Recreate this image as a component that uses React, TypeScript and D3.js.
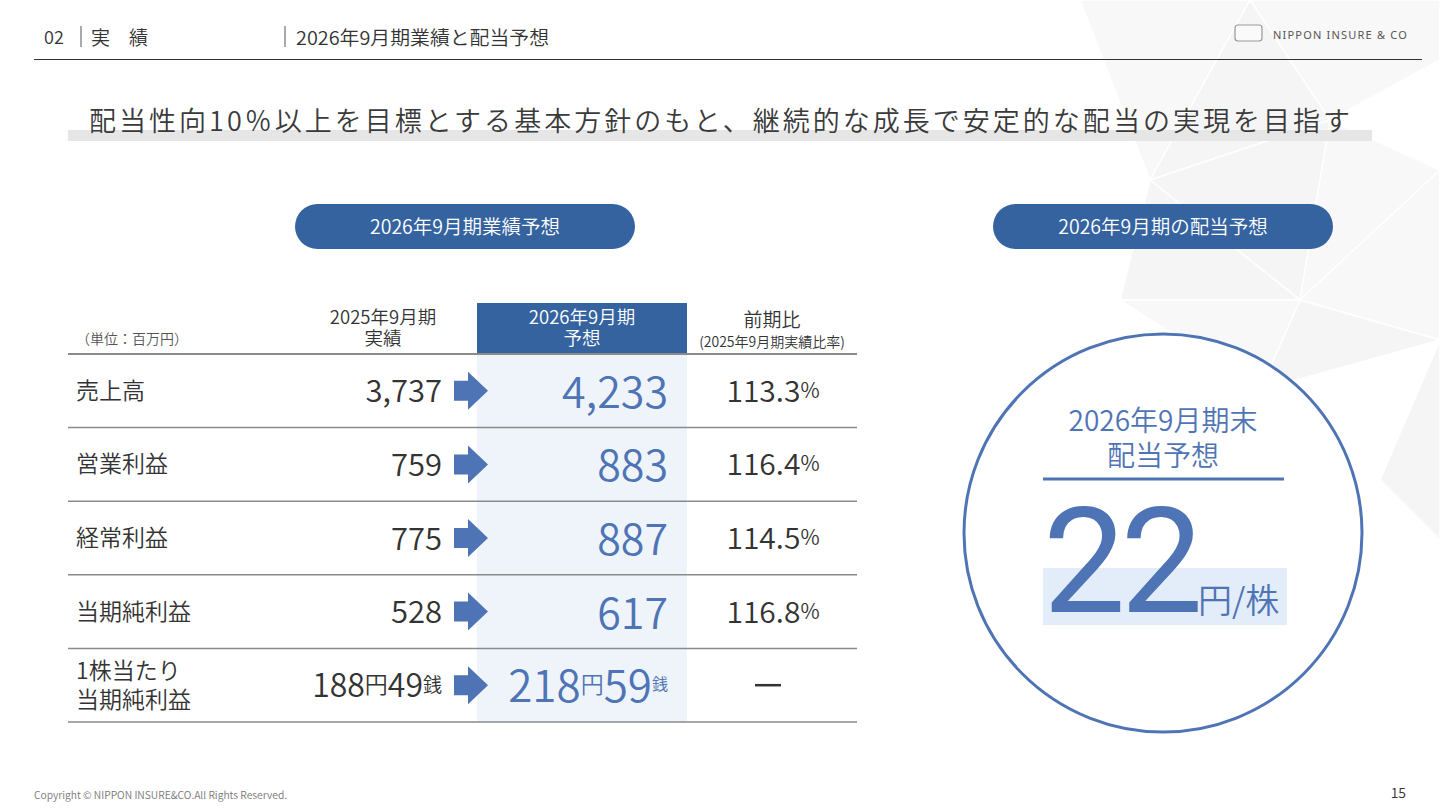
import React from "react";
import * as d3 from "d3";

// ---------- data ----------
const rowLabels = ["売上高", "営業利益", "経常利益", "当期純利益", "1株当たり\n当期純利益"];
const priorValues = [3737, 759, 775, 528];
const forecastValues = [4233, 883, 887, 617];
const ratioValues = [113.3, 116.4, 114.5, 116.8];
const epsPrior = { yen: 188, sen: 49 };
const epsForecast = { yen: 218, sen: 59 };
const dividendForecast = 22;

const headerSection = "02";
const headerChapter = "実　績";
const headerTitle = "2026年9月期業績と配当予想";
const mainMessage = "配当性向10％以上を目標とする基本方針のもと、継続的な成長で安定的な配当の実現を目指す";
const pillLeft = "2026年9月期業績予想";
const pillRight = "2026年9月期の配当予想";
const colPrior = ["2025年9月期", "実績"];
const colForecast = ["2026年9月期", "予想"];
const colRatio = ["前期比", "(2025年9月期実績比率)"];
const unitLabel = "（単位：百万円）";
const circleTitle = ["2026年9月期末", "配当予想"];

const FONT = "'Noto Sans CJK JP', 'Noto Sans', sans-serif";
const BLUE_DARK = "#3563a0";
const BLUE = "#4f74b5";
const TEXT = "#333333";

// background decoration polygons (decorative)
const bgPolys = [
  [[1080, 0], [1250, 0], [1150, 180]],
  [[1150, 180], [1250, 0], [1330, 120]],
  [[1330, 120], [1250, 0], [1440, 0], [1440, 60]],
  [[1150, 180], [1330, 120], [1300, 300]],
  [[1300, 300], [1330, 120], [1440, 170]],
  [[1120, 300], [1150, 180], [1300, 300]],
  [[1300, 300], [1440, 170], [1440, 340]],
  [[1260, 390], [1300, 300], [1440, 340]],
  [[1120, 300], [1300, 300], [1260, 390]],
  [[1380, 480], [1440, 340], [1440, 540]],
];

export default function App() {
  const W = 1440, H = 810;
  const fmt = d3.format(",");
  const y = d3.scaleBand<number>().domain(d3.range(rowLabels.length)).range([354, 722]).padding(0);
  const rowLines = d3.range(rowLabels.length + 1).map((i) => (i < rowLabels.length ? y(i)! : 722));

  const tableLeft = 68, tableRight = 857;
  const colFx0 = 477, colFx1 = 687;
  const priorRight = 442, fcRight = 668, ratioCx = 773;
  const dyFix = -2;

  const arrow = (cy: number) => {
    const p = d3.path();
    p.moveTo(454, cy - 10);
    p.lineTo(468, cy - 10);
    p.lineTo(468, cy - 19);
    p.lineTo(488, cy);
    p.lineTo(468, cy + 19);
    p.lineTo(468, cy + 10);
    p.lineTo(454, cy + 10);
    p.closePath();
    return p.toString();
  };

  const lineGen = d3.line();

  return (
    <div style={{ position: "absolute", left: 0, top: 0 }}>
      <svg width={W} height={H} viewBox={`0 0 ${W} ${H}`} style={{ display: "block", fontFamily: FONT }} fontWeight={350}>
        <rect width={W} height={H} fill="#fff" />
        {/* background decoration */}
        <g>
          {bgPolys.map((pts, i) => (
            <path key={i} d={lineGen(pts as [number, number][])! + "Z"} fill={i % 2 ? "#f5f5f5" : "#f8f8f8"} stroke="#ffffff" strokeWidth={1.5} />
          ))}
        </g>

        {/* header */}
        <text x={44} y={36} fontSize={18} fill={TEXT} dominantBaseline="central">{headerSection}</text>
        <line x1={81} x2={81} y1={26} y2={47} stroke="#555" strokeWidth={1} />
        <text x={91} y={36} fontSize={19} fill={TEXT} dominantBaseline="central">{headerChapter}</text>
        <line x1={285} x2={285} y1={26} y2={47} stroke="#555" strokeWidth={1} />
        <text x={296} y={36} fontSize={19} fill={TEXT} dominantBaseline="central" textLength={253} lengthAdjust="spacingAndGlyphs">{headerTitle}</text>
        <line x1={34} x2={1422} y1={59.5} y2={59.5} stroke="#333" strokeWidth={1.2} />

        {/* logo */}
        <rect x={1235} y={25} width={27} height={16} rx={3} fill="#fafafa" stroke="#999" strokeWidth={1.2} />
        <text x={1273} y={34} fontSize={11} fill="#555" letterSpacing={1.2} dominantBaseline="central" fontFamily="'Noto Sans', sans-serif" fontWeight={400}>NIPPON INSURE &amp; CO</text>

        {/* main message */}
        <rect x={68} y={130} width={1304} height={11} fill="#e6e6e6" />
        <text x={89} y={119} fontSize={27} fill="#3a3a3a" dominantBaseline="central" textLength={1261} lengthAdjust="spacing">{mainMessage}</text>

        {/* pills */}
        <rect x={295} y={204} width={340} height={45} rx={22.5} fill={BLUE_DARK} />
        <text x={465} y={225} fontSize={19.5} fill="#fff" textAnchor="middle" dominantBaseline="central">{pillLeft}</text>
        <rect x={993} y={204} width={340} height={45} rx={22.5} fill={BLUE_DARK} />
        <text x={1163} y={225} fontSize={19.5} fill="#fff" textAnchor="middle" dominantBaseline="central">{pillRight}</text>

        {/* table column backgrounds */}
        <rect x={colFx0} y={303} width={colFx1 - colFx0} height={50} fill={BLUE_DARK} />
        <rect x={colFx0} y={354} width={colFx1 - colFx0} height={368} fill="#eef4fa" />

        {/* table headers */}
        <text x={76} y={338} fontSize={14} fill="#555" dominantBaseline="central">{unitLabel}</text>
        <text fontSize={18.5} fill={TEXT} textAnchor="middle" dominantBaseline="central">
          <tspan x={383} y={316}>{colPrior[0]}</tspan>
          <tspan x={383} y={337}>{colPrior[1]}</tspan>
        </text>
        <text fontSize={18.5} fill="#fff" textAnchor="middle" dominantBaseline="central">
          <tspan x={582} y={316}>{colForecast[0]}</tspan>
          <tspan x={582} y={337}>{colForecast[1]}</tspan>
        </text>
        <text fill={TEXT} textAnchor="middle" dominantBaseline="central">
          <tspan x={772} y={318} fontSize={19}>{colRatio[0]}</tspan>
          <tspan x={772} y={341} fontSize={14}>{colRatio[1]}</tspan>
        </text>

        {/* row lines */}
        {rowLines.map((ly, i) => (
          <line key={i} x1={tableLeft} x2={tableRight} y1={ly} y2={ly} stroke="#8a8a8a" strokeWidth={i === 0 ? 2 : 1.5} />
        ))}

        {/* rows */}
        {rowLabels.map((lab, i) => {
          const cy = y(i)! + y.bandwidth() / 2;
          const lines = lab.split("\n");
          return (
            <g key={i}>
              <text fontSize={23} fill={TEXT} dominantBaseline="central">
                {lines.map((l, j) => (
                  <tspan key={j} x={76} y={cy + dyFix + (j - (lines.length - 1) / 2) * 29}>{l}</tspan>
                ))}
              </text>
              <path d={arrow(cy)} fill={BLUE} />
            </g>
          );
        })}

        {priorValues.map((v, i) => {
          const cy = y(i)! + y.bandwidth() / 2 + dyFix;
          return (
            <text key={"p" + i} x={priorRight} y={cy} fontSize={31} fill={TEXT} textAnchor="end" dominantBaseline="central">{fmt(v)}</text>
          );
        })}
        {forecastValues.map((v, i) => {
          const cy = y(i)! + y.bandwidth() / 2 + dyFix;
          return (
            <text key={"f" + i} x={fcRight} y={cy} fontSize={43} fill={BLUE} textAnchor="end" dominantBaseline="central">{fmt(v)}</text>
          );
        })}
        {ratioValues.map((v, i) => {
          const cy = y(i)! + y.bandwidth() / 2 + dyFix;
          return (
            <text key={"r" + i} x={ratioCx} y={cy} fontSize={30} fill={TEXT} textAnchor="middle" dominantBaseline="central">
              {v.toFixed(1)}
              <tspan fontSize={21}>%</tspan>
            </text>
          );
        })}

        {/* EPS row */}
        {(() => {
          const cy = y(4)! + y.bandwidth() / 2 + dyFix;
          return (
            <g>
              <text x={priorRight} y={cy} fontSize={32} fill={TEXT} textAnchor="end" dominantBaseline="central">
                {epsPrior.yen}
                <tspan fontSize={23}>円</tspan>
                {epsPrior.sen}
                <tspan fontSize={19}>銭</tspan>
              </text>
              <text x={fcRight} y={cy} fontSize={44} fill={BLUE} textAnchor="end" dominantBaseline="central">
                {epsForecast.yen}
                <tspan fontSize={23}>円</tspan>
                {epsForecast.sen}
                <tspan fontSize={16}>銭</tspan>
              </text>
              <line x1={755} x2={781} y1={cy + 2} y2={cy + 2} stroke={TEXT} strokeWidth={2.5} />
            </g>
          );
        })()}

        {/* dividend circle */}
        <circle cx={1163} cy={533} r={199} fill="#fff" stroke={BLUE} strokeWidth={3} />
        <text fontSize={28} fill={BLUE} textAnchor="middle" dominantBaseline="central">
          <tspan x={1163} y={419}>{circleTitle[0]}</tspan>
          <tspan x={1163} y={454}>{circleTitle[1]}</tspan>
        </text>
        <line x1={1043} x2={1284} y1={479} y2={479} stroke={BLUE} strokeWidth={3} />
        <rect x={1043} y={568} width={244} height={57} fill="#e3edf9" />
        <text x={1043} y={612} fontSize={147} fill={BLUE} fontFamily="Roboto, 'Liberation Sans', Arial, sans-serif" fontWeight={400} letterSpacing={-5}>{dividendForecast}</text>
        <text x={1198} y={613} fontSize={34} fill={BLUE}>円/株</text>

        {/* footer */}
        <text x={34} y={794} fontSize={10} fill="#777" dominantBaseline="central" textLength={253} lengthAdjust="spacingAndGlyphs">Copyright © NIPPON INSURE&amp;CO.All Rights Reserved.</text>
        <text x={1406} y={792} fontSize={14} fill={TEXT} textAnchor="end" dominantBaseline="central">15</text>
      </svg>
    </div>
  );
}
